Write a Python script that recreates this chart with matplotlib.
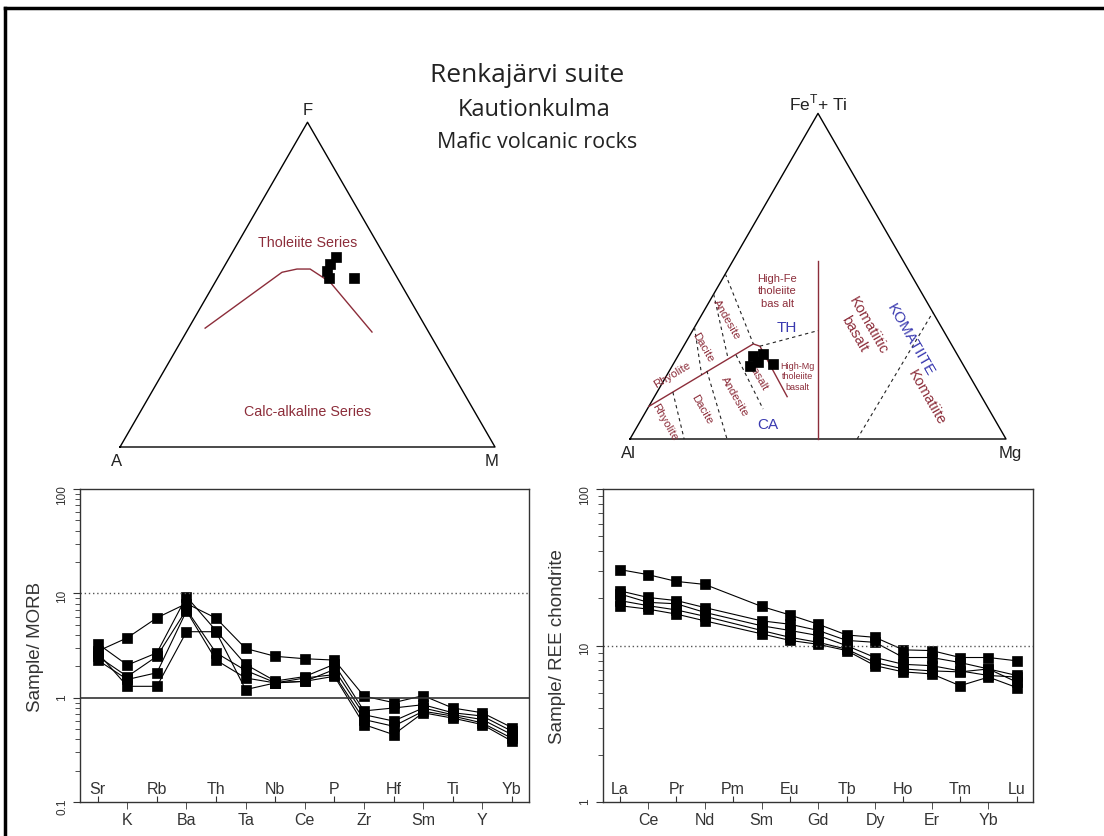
import numpy as np
import matplotlib
matplotlib.use('Agg')
import matplotlib.pyplot as plt
from matplotlib.lines import Line2D

plt.rcParams.update({
    'font.family': ['Liberation Sans', 'DejaVu Sans'],
    'axes.linewidth': 1.0,
})

W, H = 1104, 837
MAROON = '#8c2d3a'
BLUE = '#3a3ab0'
SQ3 = np.sqrt(3) / 2

# ---------------- data ----------------
# AFM diagram (fractions of F and M, A = rest)
afm_F = [0.585, 0.563, 0.542, 0.520, 0.520]
afm_M = [0.284, 0.279, 0.281, 0.297, 0.364]
# Irvine & Baragar boundary
afm_line_F = [0.366, 0.538, 0.548, 0.548, 0.508, 0.354]
afm_line_M = [0.044, 0.163, 0.198, 0.233, 0.306, 0.495]

# Jensen cation plot (fractions of FeT+Ti and Mg, Al = rest)
jen_FeTi = [0.254, 0.261, 0.236, 0.225, 0.230]
jen_Mg = [0.201, 0.224, 0.223, 0.207, 0.266]

# Jensen field boundaries (FeTi, Mg)
jen_solid = {
    'th_ca': ([0.100, 0.292, 0.285, 0.130], [0.000, 0.182, 0.203, 0.353]),
    'komatiitic': ([0.000, 0.548], [0.500, 0.226]),
}
jen_dashed = {
    'th_hmt': ([0.285, 0.333], [0.203, 0.334]),
    'komatiite': ([0.000, 0.390], [0.604, 0.611]),
    'tr_td': ([0.343, 0.197], [0.000, 0.092]),
    'td_ta': ([0.445, 0.246], [0.000, 0.138]),
    'ta_hft': ([0.507, 0.292], [0.000, 0.182]),
    'cr_cd': ([0.144, 0.000], [0.042, 0.144]),
    'cd_ca': ([0.209, 0.000], [0.100, 0.258]),
    'ca_cb': ([0.258, 0.092], [0.153, 0.308]),
}

# MORB normalised spider
morb_elements = ['Sr', 'K', 'Rb', 'Ba', 'Th', 'Ta', 'Nb', 'Ce', 'P', 'Zr',
                 'Hf', 'Sm', 'Ti', 'Y', 'Yb']
morb_s1 = [2.8, 3.76, 5.84, 8.0, 5.8, 2.97, 2.5, 2.37, 2.3, 1.04, 0.90, 1.05, 0.80, 0.72, 0.52]
morb_s2 = [3.3, 2.06, 2.70, 9.3, 4.4, 2.09, 1.45, 1.60, 2.1, 0.75, 0.80, 0.86, 0.72, 0.67, 0.48]
morb_s3 = [2.5, 1.60, 2.50, 7.0, 2.7, 1.83, 1.40, 1.44, 1.87, 0.69, 0.60, 0.80, 0.69, 0.62, 0.445]
morb_s4 = [2.3, 1.50, 1.74, 6.8, 2.3, 1.55, 1.39, 1.55, 1.67, 0.62, 0.535, 0.745, 0.67, 0.576, 0.41]
morb_s5 = [2.7, 1.29, 1.29, 4.3, 4.3, 1.20, 1.39, 1.44, 1.61, 0.555, 0.445, 0.72, 0.64, 0.555, 0.385]

# chondrite normalised REE (no Pm)
ree_labels = ['La', 'Ce', 'Pr', 'Nd', 'Pm', 'Sm', 'Eu', 'Gd', 'Tb', 'Dy',
              'Ho', 'Er', 'Tm', 'Yb', 'Lu']
ree_elements = ['La', 'Ce', 'Pr', 'Nd', 'Sm', 'Eu', 'Gd', 'Tb', 'Dy',
                'Ho', 'Er', 'Tm', 'Yb', 'Lu']
ree_s1 = [30.6, 28.4, 25.7, 24.6, 17.8, 15.7, 13.7, 11.7, 11.3, 9.4, 9.3, 8.4, 8.4, 8.0]
ree_s2 = [22.4, 20.3, 19.4, 17.5, 14.4, 13.7, 12.5, 10.8, 10.5, 8.4, 8.4, 7.8, 7.1, 6.45]
ree_s3 = [21.4, 18.9, 18.5, 16.3, 13.4, 12.5, 11.6, 10.0, 8.4, 7.6, 7.45, 6.9, 6.45, 6.3]
ree_s4 = [19.4, 18.0, 16.9, 15.4, 12.5, 11.3, 10.5, 9.5, 7.8, 7.1, 6.9, 6.8, 7.1, 5.85]
ree_s5 = [18.0, 17.1, 15.9, 14.4, 11.9, 10.8, 10.2, 9.3, 7.45, 6.8, 6.6, 5.55, 6.3, 5.4]


def tern_xy(top, right):
    top = np.asarray(top, float)
    right = np.asarray(right, float)
    return right + top / 2, top * SQ3


def tern_axes(fig, x0, y0, side, pad=40):
    # x0, y0 = pixel position of the left vertex, side = edge length in px
    left, right = x0 - pad, x0 + side + pad
    top, bottom = y0 - side * SQ3 - pad, y0 + pad
    ax = fig.add_axes([left / W, (H - bottom) / H, (right - left) / W, (bottom - top) / H])
    ax.set_xlim(-pad / side, 1 + pad / side)
    ax.set_ylim(-pad / side, SQ3 + pad / side)
    ax.axis('off')
    ax.plot([0, 1, 0.5, 0], [0, 0, SQ3, 0], color='black', lw=1.0)
    return ax


def spider_axes(fig, l, t, r, b):
    ax = fig.add_axes([l / W, (H - b) / H, (r - l) / W, (b - t) / H])
    for s in ax.spines.values():
        s.set_color('#333333')
    return ax


def stagger_xticks(ax, labels):
    n = len(labels)
    ax.set_xticks(range(0, n, 2), labels=labels[0::2])
    ax.set_xticks(range(1, n, 2), labels=labels[1::2], minor=True)
    ax.tick_params(axis='x', which='major', direction='in', length=4, pad=-15.5,
                   labelsize=11.5, colors='#333333', labelcolor='#333333')
    ax.tick_params(axis='x', which='minor', direction='out', length=5, pad=2,
                   labelsize=11.5, colors='#333333', labelcolor='#333333')
    ax.set_xlim(-0.6, n - 1 + 0.58)


fig = plt.figure(figsize=(W / 100, H / 100), dpi=100)

# frame
fig.add_artist(Line2D([5 / W, 1], [1 - 9 / H, 1 - 9 / H], color='black', lw=2.5))
fig.add_artist(Line2D([5 / W, 5 / W], [0, 1 - 9 / H], color='black', lw=2.5))

# titles
fig.text(527 / W, 1 - 76 / H, 'Renkajärvi suite', family='Open Sans', fontsize=19,
         ha='center', va='center', color='#222222')
fig.text(534 / W, 1 - 110 / H, 'Kautionkulma', family='Open Sans', fontsize=17,
         ha='center', va='center', color='#222222')
fig.text(537 / W, 1 - 142 / H, 'Mafic volcanic rocks', family='Open Sans', fontsize=15.5,
         ha='center', va='center', color='#222222')

# ---------------- AFM ----------------
ax1 = tern_axes(fig, 120, 448, 375)
lx, ly = tern_xy(afm_line_F, afm_line_M)
ax1.plot(lx, ly, color=MAROON, lw=1.0)
px, py = tern_xy(afm_F, afm_M)
ax1.plot(px, py, 's', color='black', ms=7.5, mew=0.5, zorder=5)
ax1.text(0.5, 0.547, 'Tholeiite Series', color=MAROON, fontsize=10.3, ha='center', va='center')
ax1.text(0.5, 0.096, 'Calc-alkaline Series', color=MAROON, fontsize=10.3, ha='center', va='center')
ax1.text(0.5, SQ3 + 0.035, 'F', fontsize=12, ha='center', va='center', color='#222222')
ax1.text(-0.008, -0.037, 'A', fontsize=12, ha='center', va='center', color='#222222')
ax1.text(0.992, -0.037, 'M', fontsize=12, ha='center', va='center', color='#222222')

# ---------------- Jensen ----------------
ax2 = tern_axes(fig, 630, 440, 376)
for feti, mg in jen_solid.values():
    x, y = tern_xy(feti, mg)
    ax2.plot(x, y, color=MAROON, lw=1.0)
for feti, mg in jen_dashed.values():
    x, y = tern_xy(feti, mg)
    ax2.plot(x, y, color='#222222', lw=0.8, ls=(0, (3, 3)))
jx, jy = tern_xy(jen_FeTi, jen_Mg)
ax2.plot(jx, jy, 's', color='black', ms=7.5, mew=0.5, zorder=5)

ax2.text(0.5, 0.895, 'Fe$^{\\mathregular{T}}$+ Ti', fontsize=12.5, ha='center', va='center', color='#222222')
ax2.text(-0.003, -0.035, 'Al', fontsize=12, ha='center', va='center', color='#222222')
ax2.text(1.01, -0.035, 'Mg', fontsize=12, ha='center', va='center', color='#222222')

ax2.text(0.391, 0.396, 'High-Fe\ntholeiite\nbas alt', color=MAROON, fontsize=8,
         ha='center', va='center', linespacing=1.3)
ax2.text(0.446, 0.168, 'High-Mg\ntholeiite\nbasalt', color=MAROON, fontsize=6.5,
         ha='center', va='center', linespacing=1.2)
ax2.text(0.418, 0.298, 'TH', color=BLUE, fontsize=11, ha='center', va='center')
ax2.text(0.367, 0.040, 'CA', color=BLUE, fontsize=11, ha='center', va='center')
ax2.text(0.614, 0.293, 'Komatiitic\nbasalt', color=MAROON, fontsize=10.5, rotation=-60,
         ha='center', va='center', rotation_mode='anchor')
ax2.text(0.745, 0.266, 'KOMATIITE', color=BLUE, fontsize=11, rotation=-60,
         ha='center', va='center', rotation_mode='anchor')
ax2.text(0.790, 0.114, 'Komatiite', color=MAROON, fontsize=10.5, rotation=-60,
         ha='center', va='center', rotation_mode='anchor')
rock_labels = [
    ('Andesite', 0.258, 0.319, -60), ('Dacite', 0.194, 0.247, -60),
    ('Rhyolite', 0.112, 0.173, 31), ('Rhyolite', 0.093, 0.048, -60),
    ('Dacite', 0.191, 0.080, -60), ('Andesite', 0.279, 0.114, -60),
    ('basalt', 0.340, 0.168, -60),
]
for txt, x, y, rot in rock_labels:
    ax2.text(x, y, txt, color=MAROON, fontsize=8.2, rotation=rot,
             ha='center', va='center', rotation_mode='anchor')

# ---------------- MORB spider ----------------
ax3 = spider_axes(fig, 80, 490, 529, 803.3)
ax3.set_yscale('log')
xs = np.arange(len(morb_elements))
for s in [morb_s1, morb_s2, morb_s3, morb_s4, morb_s5]:
    ax3.plot(xs, s, '-s', color='black', lw=0.8, ms=7.2, mew=0.5)
ax3.axhline(1, color='#333333', lw=1.2)
ax3.axhline(10, color='#555555', lw=1.0, ls=(0, (1, 2)))
ax3.set_ylim(0.1, 100)
stagger_xticks(ax3, morb_elements)
ax3.set_yticks([0.1, 1, 10, 100], labels=['0.1', '1', '10', '100'])
ax3.tick_params(axis='y', which='major', direction='out', length=5, labelsize=8.5,
                labelrotation=90, colors='#333333')
ax3.tick_params(axis='y', which='minor', direction='out', length=3.5, colors='#333333')
ax3.text(-0.1, 0.5, 'Sample/ MORB', transform=ax3.transAxes, rotation=90,
         fontsize=13.5, ha='center', va='center', color='#333333')

# ---------------- REE spider ----------------
ax4 = spider_axes(fig, 602.7, 490, 1033.3, 803.3)
ax4.set_yscale('log')
xr = [ree_labels.index(e) for e in ree_elements]
for s in [ree_s1, ree_s2, ree_s3, ree_s4, ree_s5]:
    ax4.plot(xr, s, '-s', color='black', lw=0.8, ms=7.2, mew=0.5)
ax4.axhline(10, color='#555555', lw=1.0, ls=(0, (1, 2)))
ax4.set_ylim(1, 100)
stagger_xticks(ax4, ree_labels)
ax4.set_yticks([1, 10, 100], labels=['1', '10', '100'])
ax4.tick_params(axis='y', which='major', direction='out', length=5, labelsize=8.5,
                labelrotation=90, colors='#333333')
ax4.tick_params(axis='y', which='minor', direction='out', length=3.5, colors='#333333')
ax4.text(-0.105, 0.5, 'Sample/ REE chondrite', transform=ax4.transAxes, rotation=90,
         fontsize=13.5, ha='center', va='center', color='#333333')

fig.savefig('out.png', dpi=100)
plt.close(fig)
